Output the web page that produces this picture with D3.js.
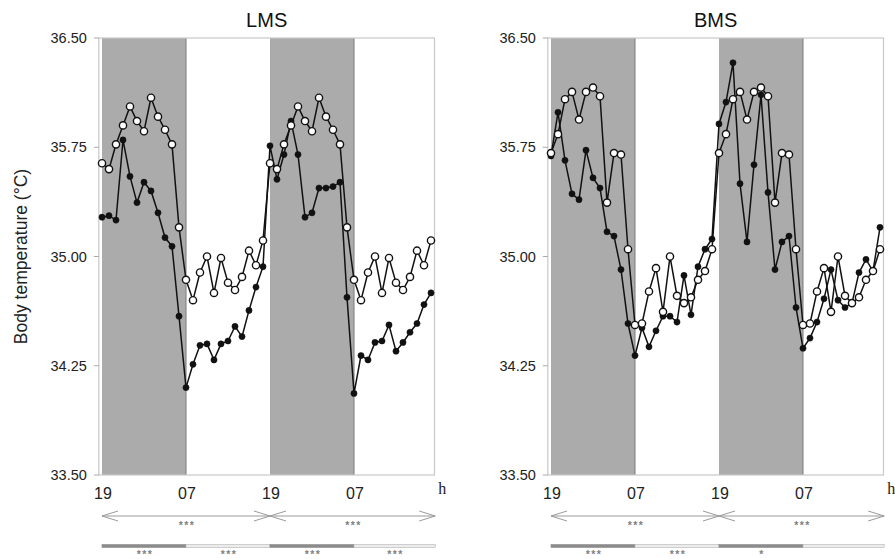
<!DOCTYPE html>
<html lang="en">
<head>
<meta charset="UTF-8">
<script src="https://d3js.org/d3.v7.min.js"></script>
<title>LMS / BMS body temperature</title>
<style>
  body { margin: 0; background: #fff; }
  svg { display: block; font-family: "Liberation Sans", Arial, Helvetica, sans-serif; }
</style>
</head>
<body>
<svg width="895" height="559"></svg>
<script>
// hourly readings, 48 h starting at 19:00 (double plotted)
var hourLabels = ["19", "07", "19", "07"];
var hourTicks = [0, 12, 24, 36];
var yTicks = [36.50, 35.75, 35.00, 34.25, 33.50];

var lmsOpen = [35.64, 35.60, 35.77, 35.90, 36.03, 35.93, 35.86, 36.09, 35.96, 35.87, 35.77, 35.20,
               34.84, 34.70, 34.89, 35.00, 34.75, 34.99, 34.82, 34.77, 34.86, 35.04, 34.94, 35.11,
               35.64, 35.60, 35.77, 35.90, 36.03, 35.93, 35.86, 36.09, 35.96, 35.87, 35.77, 35.20,
               34.84, 34.70, 34.89, 35.00, 34.75, 34.99, 34.82, 34.77, 34.86, 35.04, 34.94, 35.11];
var lmsFilled = [35.27, 35.28, 35.25, 35.80, 35.55, 35.37, 35.51, 35.45, 35.30, 35.13, 35.07, 34.59,
                 34.10, 34.26, 34.39, 34.40, 34.29, 34.40, 34.42, 34.52, 34.45, 34.63, 34.79, 34.93,
                 35.76, 35.53, 35.70, 35.93, 35.70, 35.27, 35.30, 35.47, 35.47, 35.48, 35.51, 34.72,
                 34.06, 34.32, 34.29, 34.41, 34.42, 34.53, 34.35, 34.41, 34.48, 34.54, 34.67, 34.75];
var bmsOpen = [35.71, 35.84, 36.08, 36.13, 35.94, 36.13, 36.16, 36.10, 35.37, 35.71, 35.70, 35.05,
               34.53, 34.54, 34.76, 34.92, 34.62, 35.00, 34.73, 34.68, 34.72, 34.84, 34.90, 35.05,
               35.71, 35.84, 36.08, 36.13, 35.94, 36.13, 36.16, 36.10, 35.37, 35.71, 35.70, 35.05,
               34.53, 34.54, 34.76, 34.92, 34.62, 35.00, 34.73, 34.68, 34.72, 34.84, 34.90, 35.05];
var bmsFilled = [35.69, 35.99, 35.66, 35.43, 35.39, 35.73, 35.54, 35.47, 35.17, 35.14, 34.91, 34.54,
                 34.32, 34.51, 34.38, 34.49, 34.59, 34.59, 34.55, 34.87, 34.60, 34.93, 35.05, 35.12,
                 35.91, 36.06, 36.33, 35.50, 35.10, 35.63, 36.11, 35.44, 34.91, 35.10, 35.14, 34.65,
                 34.37, 34.44, 34.55, 34.71, 34.91, 34.70, 34.65, 34.68, 34.89, 34.98, 34.90, 35.20];

var dayStars = [["***", "***"], ["***", "***"]];
var phaseStars = [["***", "***", "***", "***"], ["***", "***", "*", ""]];

var panels = [
  {title: "LMS", open: lmsOpen, filled: lmsFilled, x0: 102, days: dayStars[0], phases: phaseStars[0]},
  {title: "BMS", open: bmsOpen, filled: bmsFilled, x0: 551, days: dayStars[1], phases: phaseStars[1]}
];

var svg = d3.select("svg");
var plotTop = 38, plotBottom = 475;
var ys = d3.scaleLinear().domain([33.5, 36.5]).range([plotBottom, plotTop]);

svg.append("text")
  .attr("transform", "translate(27," + ((plotTop + plotBottom) / 2) + ") rotate(-90)")
  .attr("text-anchor", "middle")
  .attr("font-size", 17.5)
  .attr("fill", "#222")
  .text("Body temperature (°C)");

panels.forEach(function(p) {
  var xs = d3.scaleLinear().domain([0, 48]).range([p.x0, p.x0 + 336]);
  var g = svg.append("g");
  var left = xs(-0.45), right = xs(47.5);

  // night shading
  g.selectAll("rect.night").data([0, 24]).enter().append("rect")
    .attr("x", d => xs(d)).attr("y", plotTop)
    .attr("width", d => xs(d + 12) - xs(d)).attr("height", plotBottom - plotTop)
    .attr("fill", "#ababab");
  g.selectAll("line.edge").data([12, 36]).enter().append("line")
    .attr("x1", d => xs(d)).attr("x2", d => xs(d))
    .attr("y1", plotTop).attr("y2", plotBottom)
    .attr("stroke", "#7a7a7a").attr("stroke-width", 1);

  // frame
  g.append("rect")
    .attr("x", left).attr("y", plotTop)
    .attr("width", right - left).attr("height", plotBottom - plotTop)
    .attr("fill", "none").attr("stroke", "#c8c8c8").attr("stroke-width", 1.2);

  // y axis
  g.selectAll("line.ytick").data(yTicks).enter().append("line")
    .attr("x1", left - 5).attr("x2", left)
    .attr("y1", d => ys(d)).attr("y2", d => ys(d))
    .attr("stroke", "#aaa");
  g.selectAll("text.ylab").data(yTicks).enter().append("text")
    .attr("x", left - 12).attr("y", d => ys(d) + 5)
    .attr("text-anchor", "end").attr("font-size", 14.5).attr("fill", "#222")
    .text(d => d.toFixed(2));

  // x labels
  g.selectAll("text.xlab").data(hourTicks).enter().append("text")
    .attr("x", d => xs(d) + 1).attr("y", 499)
    .attr("text-anchor", "middle").attr("font-size", 16).attr("fill", "#222")
    .text((d, i) => hourLabels[i]);
  g.append("text")
    .attr("x", xs(48.6)).attr("y", 494)
    .attr("text-anchor", "middle").attr("font-size", 16)
    .attr("font-family", "'Liberation Serif', 'DejaVu Serif', serif").attr("fill", "#222")
    .text("h");

  // title
  g.append("text")
    .attr("x", (left + right) / 2).attr("y", 27)
    .attr("text-anchor", "middle").attr("font-size", 20).attr("fill", "#111")
    .text(p.title);

  // series
  var line = d3.line().x((d, i) => xs(i)).y(d => ys(d));
  [p.filled, p.open].forEach(function(series, k) {
    g.append("path").datum(series)
      .attr("d", line).attr("fill", "none")
      .attr("stroke", "#111").attr("stroke-width", 1.5);
    g.selectAll("circle.s" + k).data(series).enter().append("circle")
      .attr("cx", (d, i) => xs(i)).attr("cy", d => ys(d))
      .attr("r", k ? 3.6 : 3.1)
      .attr("fill", k ? "#fff" : "#111")
      .attr("stroke", "#111").attr("stroke-width", k ? 1.4 : 0.5);
  });

  // 24 h double arrows
  var ay = 516, ac = "#9a9a9a";
  [0, 24].forEach(function(s, i) {
    var a = xs(s), b = xs(s === 0 ? 24 : 47.6);
    g.append("line").attr("x1", a).attr("x2", b).attr("y1", ay).attr("y2", ay)
      .attr("stroke", ac).attr("stroke-width", 1);
    g.append("path")
      .attr("d", "M" + (a + 16) + "," + (ay - 5) + "L" + a + "," + ay + "L" + (a + 16) + "," + (ay + 5)
        + "M" + (b - 16) + "," + (ay - 5) + "L" + b + "," + ay + "L" + (b - 16) + "," + (ay + 5))
      .attr("fill", "none").attr("stroke", ac).attr("stroke-width", 1);
    g.append("text")
      .attr("x", (a + b) / 2 + 1).attr("y", 529)
      .attr("text-anchor", "middle").attr("font-size", 10.5).attr("letter-spacing", 1.4)
      .attr("font-weight", "bold").attr("fill", "#808080")
      .text(p.days[i]);
  });

  // 12 h phase bars
  [0, 12, 24, 36].forEach(function(s, i) {
    var a = xs(s), b = xs(s === 36 ? 47.6 : s + 12);
    g.append("rect")
      .attr("x", a).attr("y", 544.5).attr("width", b - a).attr("height", 3)
      .attr("fill", i % 2 ? "#ececec" : "#8c8c8c")
      .attr("stroke", i % 2 ? "#b5b5b5" : "#8c8c8c").attr("stroke-width", 0.6);
    g.append("text")
      .attr("x", (a + b) / 2 + 1).attr("y", 558)
      .attr("text-anchor", "middle").attr("font-size", 10.5).attr("letter-spacing", 1.4)
      .attr("font-weight", "bold").attr("fill", "#808080")
      .text(p.phases[i]);
  });
});
</script>
</body>
</html>
